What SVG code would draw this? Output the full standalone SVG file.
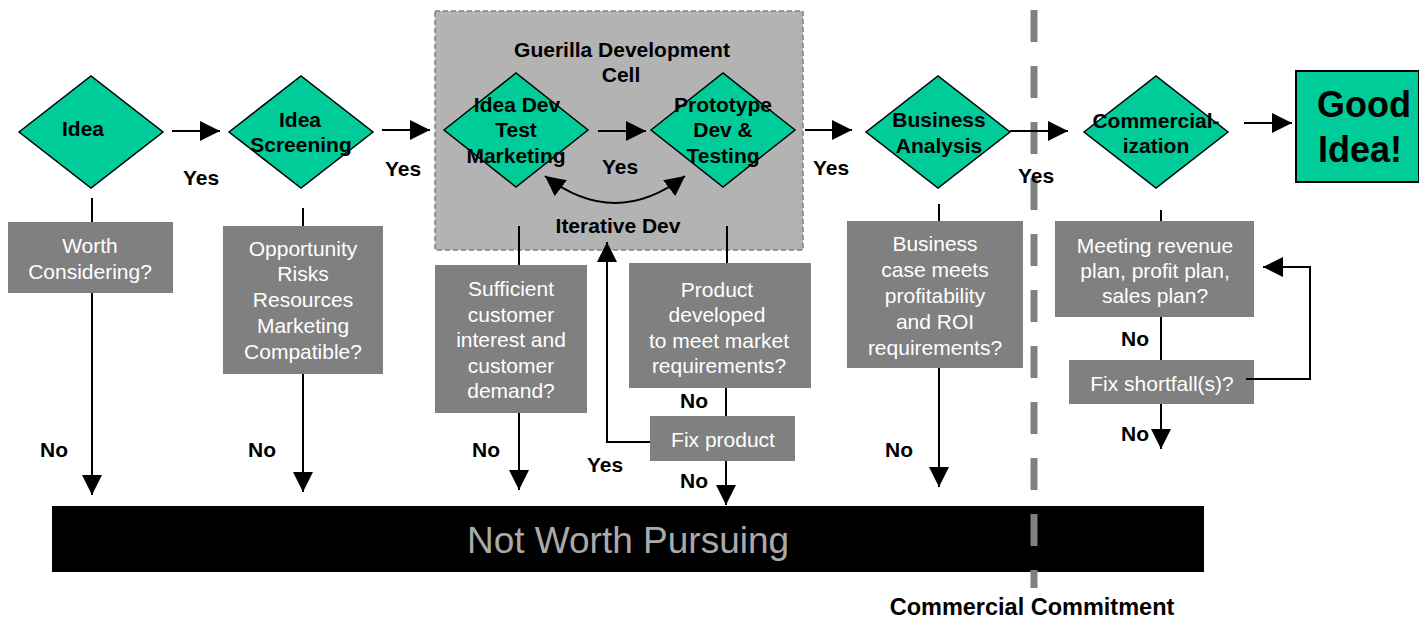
<svg xmlns="http://www.w3.org/2000/svg" width="1419" height="619" viewBox="0 0 1419 619">
<defs>
<marker id="ah" viewBox="0 0 20 20" refX="20" refY="10" markerWidth="20" markerHeight="20" markerUnits="userSpaceOnUse" orient="auto-start-reverse">
<path d="M0,0 L20,10 L0,20 Z" fill="#000"/>
</marker>
<style>
.dia{fill:#00cc99;stroke:#000;stroke-width:1.5}
.box{fill:#808080}
.bt{font-family:"Liberation Sans",Arial,sans-serif;font-size:21px;font-weight:bold;fill:#000;text-anchor:middle}
.wt{font-family:"Liberation Sans",Arial,sans-serif;font-size:21px;fill:#fff;text-anchor:middle}
.ln{fill:none;stroke:#000;stroke-width:2}
.ar{fill:none;stroke:#000;stroke-width:2;marker-end:url(#ah)}
</style>
</defs>
<rect width="1419" height="619" fill="#fff"/>

<g id="cell">
<rect x="435" y="11" width="368" height="239" fill="#b3b3b3" stroke="#808080" stroke-width="1.5" stroke-dasharray="5,3"/>
<text class="bt" x="622" y="57">Guerilla Development</text>
<text class="bt" x="621" y="82">Cell</text>
<text class="bt" x="618" y="233">Iterative Dev</text>
</g>

<g id="bar">
<rect x="52" y="506" width="1152" height="66" fill="#000"/>
<text x="628" y="553" font-family="Liberation Sans,Arial,sans-serif" font-size="37" fill="#aaaaaa" text-anchor="middle">Not Worth Pursuing</text>
</g>

<g id="commitment-line">
<line x1="1034" y1="10" x2="1034" y2="588" stroke="#808080" stroke-width="7" stroke-dasharray="32,24"/>
<text class="bt" x="1032" y="615" style="font-size:23.5px">Commercial Commitment</text>
</g>

<g id="idea">
<polygon class="dia" points="19,132 91,76 163,132 91,188"/>
<text class="bt" x="83" y="136">Idea</text>
</g>
<g id="idea-screening">
<polygon class="dia" points="229,132 301,76 373,132 301,188"/>
<text class="bt" x="300" y="127">Idea</text>
<text class="bt" x="301" y="152">Screening</text>
</g>
<g id="idea-dev">
<polygon class="dia" points="444,130 516,73 588,130 516,187"/>
<text class="bt" x="517" y="112">Idea Dev</text>
<text class="bt" x="516" y="137">Test</text>
<text class="bt" x="516" y="163">Marketing</text>
</g>
<g id="prototype">
<polygon class="dia" points="651,130 723,73 795,130 723,187"/>
<text class="bt" x="723" y="112">Prototype</text>
<text class="bt" x="723" y="137">Dev &amp;</text>
<text class="bt" x="723" y="163">Testing</text>
</g>
<g id="business-analysis">
<polygon class="dia" points="866,132 938,76 1010,132 938,188"/>
<text class="bt" x="939" y="127">Business</text>
<text class="bt" x="939" y="153">Analysis</text>
</g>
<g id="commercialization">
<polygon class="dia" points="1084,132 1156,76 1228,132 1156,188"/>
<text class="bt" x="1156" y="128">Commercial-</text>
<text class="bt" x="1156" y="153">ization</text>
</g>
<g id="good-idea">
<rect x="1296" y="71" width="123" height="111" fill="#00cc99" stroke="#000" stroke-width="2"/>
<text class="bt" x="1364" y="117" style="font-size:36px">Good</text>
<text class="bt" x="1360" y="162" style="font-size:36px">Idea!</text>
</g>

<g id="worth-considering">
<rect class="box" x="8" y="222" width="165" height="71"/>
<text class="wt" x="90" y="253">Worth</text>
<text class="wt" x="90" y="279">Considering?</text>
</g>
<g id="opportunity">
<rect class="box" x="223" y="226" width="160" height="148"/>
<text class="wt" x="303" y="256">Opportunity</text>
<text class="wt" x="303" y="281">Risks</text>
<text class="wt" x="303" y="307">Resources</text>
<text class="wt" x="303" y="333">Marketing</text>
<text class="wt" x="303" y="359">Compatible?</text>
</g>
<g id="sufficient">
<rect class="box" x="435" y="265" width="152" height="148"/>
<text class="wt" x="511" y="296">Sufficient</text>
<text class="wt" x="511" y="322">customer</text>
<text class="wt" x="511" y="347">interest and</text>
<text class="wt" x="511" y="373">customer</text>
<text class="wt" x="511" y="398">demand?</text>
</g>
<g id="product">
<rect class="box" x="629" y="263" width="182" height="125"/>
<text class="wt" x="717" y="297">Product</text>
<text class="wt" x="717" y="322">developed</text>
<text class="wt" x="719" y="348">to meet market</text>
<text class="wt" x="719" y="373">requirements?</text>
</g>
<g id="fix-product">
<rect class="box" x="650" y="416" width="145" height="45"/>
<text class="wt" x="723" y="447">Fix product</text>
</g>
<g id="business-case">
<rect class="box" x="847" y="221" width="176" height="147"/>
<text class="wt" x="935" y="251">Business</text>
<text class="wt" x="935" y="277">case meets</text>
<text class="wt" x="935" y="303">profitability</text>
<text class="wt" x="935" y="329">and ROI</text>
<text class="wt" x="935" y="355">requirements?</text>
</g>
<g id="meeting">
<rect class="box" x="1055" y="221" width="199" height="96"/>
<text class="wt" x="1155" y="253">Meeting revenue</text>
<text class="wt" x="1155" y="278">plan, profit plan,</text>
<text class="wt" x="1155" y="303">sales plan?</text>
</g>
<g id="fix-shortfall">
<rect class="box" x="1069" y="360" width="185" height="44"/>
<text class="wt" x="1162" y="391">Fix shortfall(s)?</text>
</g>

<g id="connectors">
<line class="ar" x1="172" y1="131" x2="220" y2="131"/>
<line class="ar" x1="382" y1="130" x2="430" y2="130"/>
<line class="ar" x1="598" y1="131" x2="646" y2="131"/>
<line class="ar" x1="805" y1="130" x2="852" y2="130"/>
<line class="ar" x1="1010" y1="131" x2="1068" y2="131"/>
<line class="ar" x1="1244" y1="123" x2="1292" y2="123"/>
<path class="ln" d="M545,176 Q615,230 685,176" marker-start="url(#ah)" marker-end="url(#ah)"/>

<line class="ln" x1="92" y1="198" x2="92" y2="222"/>
<line class="ar" x1="92" y1="293" x2="92" y2="495"/>
<line class="ln" x1="303" y1="208" x2="303" y2="226"/>
<line class="ar" x1="303" y1="374" x2="303" y2="492"/>
<line class="ln" x1="519" y1="226" x2="519" y2="265"/>
<line class="ar" x1="519" y1="413" x2="519" y2="490"/>
<line class="ln" x1="727" y1="226" x2="727" y2="263"/>
<line class="ln" x1="726" y1="388" x2="726" y2="416"/>
<line class="ar" x1="726" y1="461" x2="726" y2="505"/>
<polyline class="ar" points="650,442 607,442 607,242"/>
<line class="ln" x1="939" y1="204" x2="939" y2="221"/>
<line class="ar" x1="939" y1="368" x2="939" y2="487"/>
<line class="ln" x1="1161" y1="210" x2="1161" y2="221"/>
<line class="ln" x1="1161" y1="317" x2="1161" y2="360"/>
<line class="ar" x1="1161" y1="404" x2="1161" y2="449"/>
<polyline class="ar" points="1246,379 1310,379 1310,267 1263,267"/>
</g>

<g id="labels">
<text class="bt" x="201" y="185">Yes</text>
<text class="bt" x="403" y="176">Yes</text>
<text class="bt" x="620" y="174">Yes</text>
<text class="bt" x="831" y="175">Yes</text>
<text class="bt" x="1036" y="183">Yes</text>
<text class="bt" x="54" y="457">No</text>
<text class="bt" x="262" y="457">No</text>
<text class="bt" x="486" y="457">No</text>
<text class="bt" x="694" y="408">No</text>
<text class="bt" x="605" y="472">Yes</text>
<text class="bt" x="694" y="488">No</text>
<text class="bt" x="899" y="457">No</text>
<text class="bt" x="1135" y="346">No</text>
<text class="bt" x="1135" y="441">No</text>
</g>
</svg>
